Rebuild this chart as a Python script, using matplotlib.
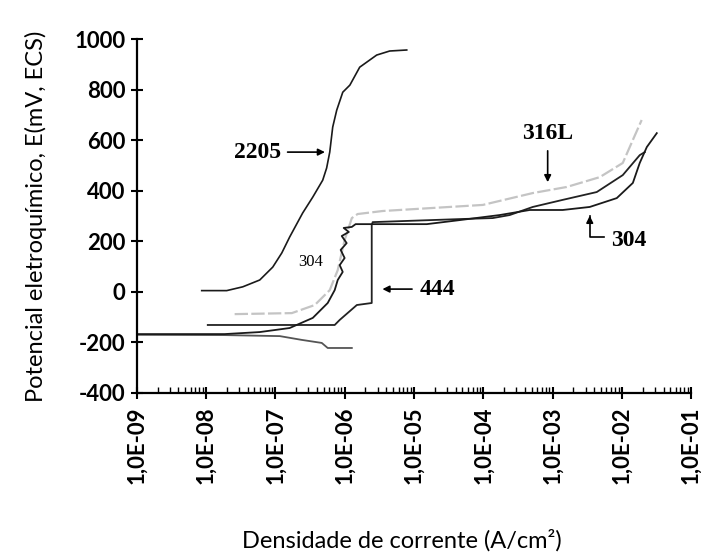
import matplotlib
matplotlib.use("Agg")
import matplotlib.pyplot as plt
from matplotlib.ticker import LogLocator, NullFormatter
from matplotlib.font_manager import FontProperties

plt.rcParams["axes.unicode_minus"] = False

# curvas de polarizacao (A/cm2, mV ECS)
i_2205 = [8.67e-9, 1.99e-8, 3.39e-8, 5.96e-8, 9.18e-8, 1.24e-7, 1.61e-7, 2.48e-7,
          3.47e-7, 4.83e-7, 5.5e-7, 6.10e-7, 6.73e-7, 7.69e-7, 9.4e-7, 1.19e-6,
          1.65e-6, 2.90e-6, 4.47e-6, 7.87e-6]
e_2205 = [5, 5, 20, 47, 98, 154, 217, 312, 375, 442, 490, 553, 652, 719, 790, 818,
          889, 937, 953, 957]

i_316l = [2.59e-8, 1.73e-7, 3.71e-7, 6.10e-7, 7.95e-7, 1.00e-6, 1.27e-6, 1.54e-6,
          3.55e-6, 1.87e-5, 9.84e-5, 5.18e-4, 1.60e-3, 4.80e-3, 1.03e-2, 1.44e-2, 1.93e-2]
e_316l = [-88, -84, -52, 7, 86, 205, 292, 308, 320, 332, 344, 391, 415, 454, 510, 601, 680]

i_444 = [1.06e-8, 7.19e-7, 8.49e-7, 1.50e-6, 2.46e-6, 2.46e-6, 2.54e-6, 4.58e-5,
         1.37e-4, 2.41e-4, 5.18e-4, 1.40e-3, 4.34e-3, 1.03e-2, 1.81e-2, 2.14e-2]
e_444 = [-131, -131, -111, -52, -44, 264, 276, 288, 292, 304, 336, 364, 395, 462, 541, 553]

i_304 = [1.0e-9, 1.86e-8, 5.96e-8, 1.61e-7, 3.47e-7, 5.70e-7, 7.19e-7,
         7.95e-7, 9.39e-7, 8.49e-7, 1.00e-6, 8.77e-7, 1.07e-6, 9.08e-7, 1.15e-6,
         9.70e-7, 1.27e-6, 1.44e-6, 1.53e-5, 4.58e-5, 1.73e-4, 4.69e-4, 1.40e-3,
         3.44e-3, 8.44e-3, 1.44e-2, 1.81e-2, 2.29e-2, 3.19e-2]
e_304 = [-167, -167, -159, -143, -103, -44, 7,
         47, 79, 106, 134, 166, 193, 221, 237,
         253, 257, 268, 268, 284, 304, 324, 324,
         336, 371, 431, 510, 573, 628]

# ramo catodico
i_cat = [1.0e-9, 1.86e-8, 1.16e-7, 2.41e-7, 4.68e-7, 5.70e-7, 1.27e-6]
e_cat = [-170, -171, -175, -190, -202, -222, -222]

x_ticks = [1e-9, 1e-8, 1e-7, 1e-6, 1e-5, 1e-4, 1e-3, 1e-2, 1e-1]
x_labels = ["1,0E-09", "1,0E-08", "1,0E-07", "1,0E-06", "1,0E-05",
            "1,0E-04", "1,0E-03", "1,0E-02", "1,0E-01"]
y_ticks = [-400, -200, 0, 200, 400, 600, 800, 1000]

fig = plt.figure(figsize=(7.01, 5.59), dpi=100)
ax = fig.add_axes([0.195, 0.297, 0.791, 0.633])

ax.plot(i_cat, e_cat, color="#555555", lw=1.3)
ax.plot(i_316l, e_316l, color="#c4c4c4", lw=1.6, ls=(0, (6, 1.5)))
ax.plot(i_444, e_444, color="#222222", lw=1.3)
ax.plot(i_304, e_304, color="#1a1a1a", lw=1.3)
ax.plot(i_2205, e_2205, color="#1a1a1a", lw=1.2)

ax.set_xscale("log")
ax.set_xlim(1e-9, 1e-1)
ax.set_ylim(-400, 1000)
ax.set_xticks(x_ticks)
ax.set_xticklabels(x_labels, rotation=90)
ax.xaxis.set_minor_locator(LogLocator(base=10, subs=range(2, 10), numticks=20))
ax.xaxis.set_minor_formatter(NullFormatter())
ax.set_yticks(y_ticks)

for s in ["top", "right"]:
    ax.spines[s].set_visible(False)
for s in ["left", "bottom"]:
    ax.spines[s].set_linewidth(1.6)

tick_fp = FontProperties(family="Lato", weight="bold", size=16)
for lab in ax.get_xticklabels() + ax.get_yticklabels():
    lab.set_fontproperties(tick_fp)
ax.tick_params(axis="both", which="major", direction="inout", length=8, width=1.5, pad=4)
ax.tick_params(axis="x", which="minor", direction="in", length=4, width=1.0)
ax.tick_params(axis="x", which="major", pad=6)

ax.set_ylabel("Potencial eletroquímico, E(mV, ECS)", family="Lato", size=17, labelpad=20)
fig.text(0.574, 0.034, "Densidade de corrente (A/cm²)", family="Lato", size=17,
         ha="center", va="center")

ann = dict(family="Liberation Serif", weight="bold", size=17)
arr = dict(arrowstyle="-|>", color="black", lw=1.2, mutation_scale=10)

ax.annotate("", xy=(5.7e-7, 553), xytext=(1.37e-7, 553), arrowprops=arr)
ax.text(1.2e-7, 553, "2205", ha="right", va="center", **ann)

ax.annotate("", xy=(8.5e-4, 423), xytext=(8.5e-4, 569), arrowprops=arr)
ax.text(8.5e-4, 628, "316L", ha="center", va="center", **ann)

ax.annotate("", xy=(3.2e-6, 11), xytext=(1.03e-5, 11), arrowprops=arr)
ax.text(1.2e-5, 11, "444", ha="left", va="center", **ann)

ax.plot([3.44e-3, 3.44e-3, 5.6e-3], [300, 217, 217], color="black", lw=1.2)
ax.annotate("", xy=(3.44e-3, 312), xytext=(3.44e-3, 270), arrowprops=arr)
ax.text(7.0e-3, 205, "304", ha="left", va="center", **ann)

ax.text(3.24e-7, 118, "304", ha="center", va="center",
        family="Liberation Serif", size=12)

fig.savefig("out.png", dpi=100)
